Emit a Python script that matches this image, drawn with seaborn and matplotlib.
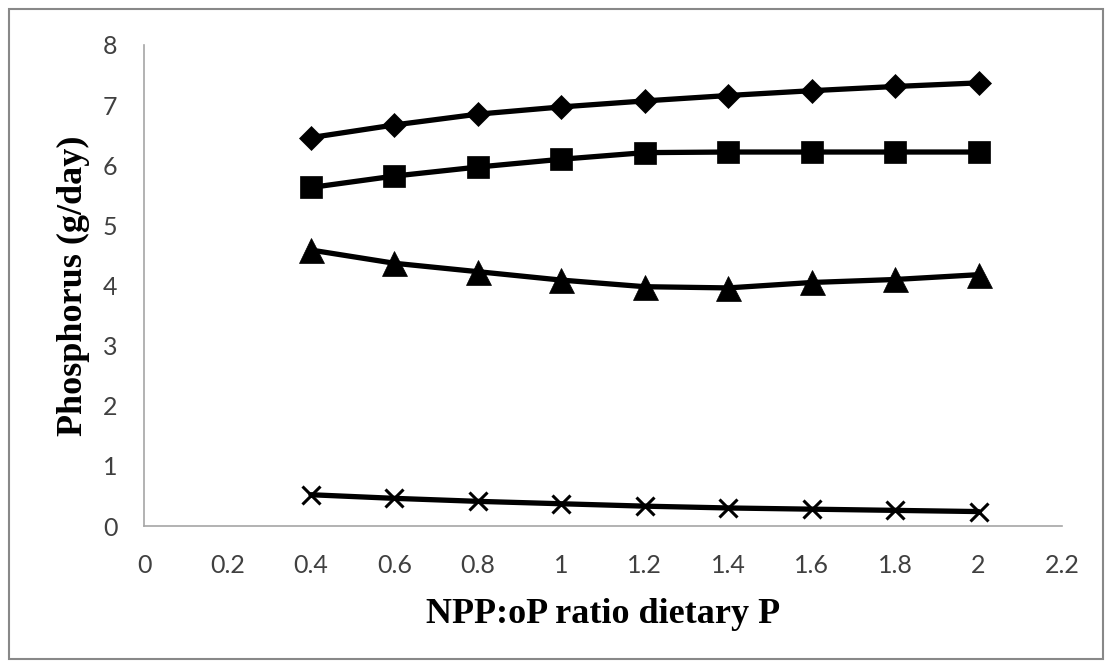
import matplotlib
matplotlib.use("Agg")
import matplotlib.pyplot as plt
import seaborn as sns
import pandas as pd
from matplotlib.patches import Rectangle

ratio = [0.4, 0.6, 0.8, 1.0, 1.2, 1.4, 1.6, 1.8, 2.0]
series_diamond = [6.46, 6.67, 6.85, 6.97, 7.07, 7.16, 7.24, 7.31, 7.37]
series_square = [5.63, 5.82, 5.97, 6.10, 6.21, 6.22, 6.22, 6.22, 6.22]
series_triangle = [4.59, 4.37, 4.23, 4.09, 3.98, 3.96, 4.05, 4.10, 4.18]
series_cross = [0.52, 0.46, 0.41, 0.37, 0.33, 0.30, 0.28, 0.26, 0.24]
x_ticks = [0, 0.2, 0.4, 0.6, 0.8, 1, 1.2, 1.4, 1.6, 1.8, 2, 2.2]
x_tick_labels = ["0", "0.2", "0.4", "0.6", "0.8", "1", "1.2", "1.4", "1.6", "1.8", "2", "2.2"]
y_ticks = [0, 1, 2, 3, 4, 5, 6, 7, 8]

sns.set_theme(style="white")
plt.rcParams["font.family"] = ["Lato", "DejaVu Sans"]

fig = plt.figure(figsize=(11.12, 6.68), dpi=100)
ax = fig.add_axes([144 / 1112, 1 - 526 / 668, (1062 - 144) / 1112, (526 - 45) / 668])

specs = [
    (series_diamond, "D", 12),
    (series_square, "s", 16.5),
    (series_triangle, "^", 18),
    (series_cross, "x", 13),
]
for vals, mk, ms in specs:
    df = pd.DataFrame({"x": ratio, "y": vals})
    sns.lineplot(data=df, x="x", y="y", ax=ax, color="black", linewidth=3.8,
                 marker=mk, markersize=ms, markeredgewidth=2.2 if mk == "x" else 0.5,
                 markeredgecolor="black", markerfacecolor="black", zorder=3)

ax.set_xlim(0, 2.2)
ax.set_ylim(0, 8)
ax.set_xticks(x_ticks)
ax.set_xticklabels(x_tick_labels)
ax.set_yticks(y_ticks)
ax.tick_params(axis="both", labelsize=18, length=0, colors="#404040")
ax.tick_params(axis="x", pad=20)
ax.tick_params(axis="y", pad=19)
for s in ["top", "right"]:
    ax.spines[s].set_visible(False)
for s in ["left", "bottom"]:
    ax.spines[s].set_color("#A6A6A6")
    ax.spines[s].set_linewidth(1.2)

ax.set_xlabel("NPP:oP ratio dietary P", fontfamily="Liberation Serif",
              fontweight="bold", fontsize=26, color="black")
ax.set_ylabel("Phosphorus (g/day)", fontfamily="Liberation Serif",
              fontweight="bold", fontsize=26, color="black")
ax.xaxis.set_label_coords(0.5, (526 - 598) / 481)
ax.yaxis.set_label_coords((90 - 144) / 918, 0.5)

fig.patches.append(Rectangle((9 / 1112, 9 / 668), (1103 - 9) / 1112, (659 - 9) / 668,
                             transform=fig.transFigure, fill=False,
                             edgecolor="#888888", linewidth=1.5))

fig.savefig("out.png", dpi=100)
